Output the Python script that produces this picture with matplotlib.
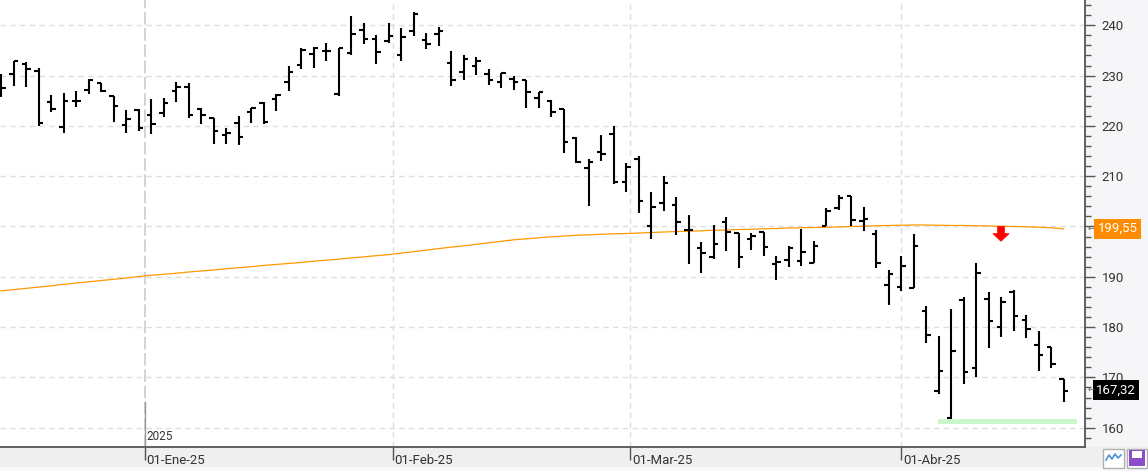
import numpy as np
import pandas as pd
import matplotlib
matplotlib.use("Agg")
import matplotlib.pyplot as plt
import matplotlib.transforms as mtransforms
from matplotlib.patches import Rectangle, FancyArrow
from matplotlib.lines import Line2D

plt.rcParams['font.family'] = ['Roboto', 'DejaVu Sans']

# trading days (US market), Dec 13 2024 .. Apr 21 2025
holidays = ['2024-12-25', '2025-01-01', '2025-01-09', '2025-01-20', '2025-02-17', '2025-04-18']
dates = pd.bdate_range('2024-12-13', '2025-04-21')
dates = dates[~dates.isin(pd.to_datetime(holidays))]

opens = [228.5, 230.3, 232.4, 230.9, 224.8, 219.8, 225.0, 227.1, 228.5, 226.0,
         220.2, 223.2, 222.2, 222.6, 226.9, 227.8, 223.3, 221.5, 218.2, 220.5,
         222.8, 224.5, 225.3, 228.8, 232.1, 234.2, 234.8, 226.3, 234.4, 239.1,
         237.3, 236.9, 234.1, 238.9, 237.1, 238.2, 232.6, 230.7, 232.0, 230.3,
         228.8, 229.3, 229.1, 225.5, 224.9, 223.3, 217.5, 211.6, 214.9, 218.3,
         208.8, 213.4, 200.1, 204.6, 204.3, 199.4, 195.8, 193.9, 200.8, 198.8,
         197.5, 198.9, 192.5, 193.3, 193.1, 192.7, 200.1, 203.6, 206.1, 201.1,
         198.5, 188.4, 187.9, 187.7, 183.1, 167.2, 161.9, 185.3, 171.9, 185.6,
         180.0, 186.9, 181.4, 176.4, 176.1, 169.6]
highs = [230.3, 233.0, 232.8, 231.5, 226.1, 226.5, 226.9, 229.3, 228.5, 226.0,
         223.2, 223.3, 225.3, 225.5, 228.8, 228.5, 223.5, 221.6, 219.6, 222.0,
         223.6, 224.7, 226.3, 231.9, 235.4, 235.6, 236.4, 235.5, 241.8, 240.4,
         238.1, 240.4, 239.4, 242.7, 238.4, 239.6, 234.9, 234.1, 233.6, 231.3,
         230.5, 229.9, 229.1, 226.8, 225.1, 223.4, 217.7, 213.4, 218.2, 220.0,
         212.7, 214.0, 206.9, 210.0, 205.9, 202.3, 197.0, 200.3, 201.8, 198.8,
         198.7, 199.0, 194.1, 196.1, 199.6, 197.1, 203.7, 206.3, 206.1, 203.9,
         199.3, 191.4, 194.1, 198.5, 184.2, 178.2, 183.6, 186.0, 192.8, 187.0,
         186.0, 187.4, 182.4, 179.3, 176.1, 169.6]
lows = [225.8, 228.0, 227.8, 220.0, 222.8, 218.6, 223.8, 226.3, 226.8, 220.8,
        218.5, 218.9, 218.3, 221.7, 224.8, 221.5, 220.3, 216.5, 216.5, 216.2,
        220.6, 220.3, 223.0, 226.9, 231.3, 231.6, 233.0, 225.9, 234.1, 236.2,
        232.3, 236.4, 233.0, 237.9, 235.2, 235.9, 228.0, 229.1, 230.1, 228.1,
        227.6, 227.1, 223.6, 223.6, 221.8, 214.7, 212.6, 204.1, 213.1, 208.4,
        206.9, 202.6, 197.5, 203.1, 198.3, 192.6, 190.8, 193.5, 195.2, 191.8,
        195.3, 194.1, 189.4, 192.0, 192.2, 192.7, 200.0, 203.3, 200.0, 199.2,
        191.8, 184.4, 187.2, 187.7, 176.9, 166.6, 161.7, 168.7, 170.0, 175.9,
        178.1, 179.3, 177.9, 171.3, 171.9, 165.2]
closes = [227.5, 233.0, 231.3, 220.6, 223.3, 224.9, 225.0, 229.2, 227.0, 223.9,
          221.3, 219.6, 220.4, 224.5, 227.8, 222.2, 222.2, 218.9, 218.6, 217.7,
          223.5, 220.7, 226.1, 230.8, 235.1, 235.4, 234.9, 235.4, 238.2, 237.2,
          234.6, 237.9, 237.6, 242.3, 236.2, 238.9, 229.1, 233.3, 232.9, 229.1,
          230.5, 228.7, 226.7, 226.7, 222.8, 216.7, 212.8, 212.8, 214.4, 208.8,
          211.9, 205.1, 203.8, 208.6, 200.8, 199.3, 194.7, 196.5, 198.9, 193.9,
          198.2, 195.9, 192.9, 195.8, 195.0, 196.1, 203.1, 205.7, 201.3, 201.4,
          192.7, 190.5, 192.1, 196.1, 178.4, 171.3, 175.3, 171.0, 190.7, 181.2,
          184.9, 182.2, 179.6, 174.4, 172.6, 167.32]

# 200-session moving average
ma200 = [187.2, 187.45, 187.7, 187.95, 188.2, 188.5, 188.75, 189.0, 189.25, 189.5,
         189.75, 190.05, 190.3, 190.5, 190.7, 190.95, 191.15, 191.35, 191.6, 191.8,
         192.0, 192.25, 192.45, 192.65, 192.85, 193.1, 193.3, 193.5, 193.75, 193.95,
         194.2, 194.4, 194.7, 195.0, 195.3, 195.6, 195.9, 196.15, 196.45, 196.75,
         197.05, 197.35, 197.55, 197.75, 197.95, 198.1, 198.25, 198.35, 198.45, 198.55,
         198.6, 198.7, 198.8, 198.9, 199.0, 199.05, 199.15, 199.25, 199.3, 199.4,
         199.45, 199.55, 199.6, 199.7, 199.75, 199.8, 199.85, 199.9, 200.0, 200.05,
         200.15, 200.2, 200.25, 200.3, 200.3, 200.25, 200.2, 200.2, 200.15, 200.1,
         200.05, 200.0, 199.95, 199.85, 199.75, 199.55]

ma_label = "199,55"
close_label = "167,32"
month_starts = ['2025-01-01', '2025-02-01', '2025-03-01', '2025-04-01']
month_labels = ['01-Ene-25', '01-Feb-25', '01-Mar-25', '01-Abr-25']
year_label = "2025"
price_ticks = [160, 170, 180, 190, 200, 210, 220, 230, 240]
signal_bar = 80
signal_top = 200.0
support_low, support_high = 160.7, 161.75
support_from, support_to = 74.95, 86.1


def date_pos(d):
    d = pd.Timestamp(d)
    j = dates.searchsorted(d)
    prev, nxt = dates[j - 1], dates[j]
    return j - 1 + (d - prev) / (nxt - prev)


W, H = 1148, 471
fig = plt.figure(figsize=(W / 100, H / 100), dpi=100)
fig.patch.set_facecolor('#efefef')
# right axis area slightly lighter, bottom edge strip
fig.patches.append(Rectangle((1085 / W, 24.3 / H), 1 - 1085 / W, 1 - 24.3 / H,
                             transform=fig.transFigure, fc='#f6f6f8', ec='none', zorder=-5))
fig.patches.append(Rectangle((0, 0), 1, 4.5 / H, transform=fig.transFigure,
                             fc='#f9f9f9', ec='none', zorder=-5))

ax = fig.add_axes([0, 24.3 / H, 1085 / W, 1 - 24.3 / H])
ax.set_zorder(1)
ax.set_facecolor('white')

x = np.arange(len(dates))
ax.set_xlim(-0.08, 86.72)
ax.set_ylim(156.22, 245.03)

# grid
for v in price_ticks:
    ax.axhline(v, color='#dedede', lw=1, ls=(0, (4, 3)), zorder=0)
mpos = [date_pos(d) for d in month_starts]
for k, p in enumerate(mpos):
    if k == 0:
        ax.axvline(p, color='#d0d0d0', lw=1.3, ls=(0, (7, 2)), zorder=0)
    else:
        ax.axvline(p, color='#dedede', lw=1, ls=(0, (4, 3)), zorder=0)

# support zone
ax.add_patch(Rectangle((support_from, support_low), support_to - support_from,
                       support_high - support_low, fc='#ccf7cc', ec='none', zorder=1))

# moving average
ax.plot(x, ma200, color='#ff9900', lw=0.9, zorder=2)

# OHLC bars
ax.vlines(x, lows, highs, color='black', lw=1.5, zorder=3)
ax.hlines(opens, x - 0.36, x, color='black', lw=1.5, zorder=3)
ax.hlines(closes, x, x + 0.36, color='black', lw=1.5, zorder=3)

# sell signal arrow
ax.add_patch(FancyArrow(signal_bar, signal_top, 0, -2.95, width=0.55, head_width=1.3,
                        head_length=1.55, length_includes_head=True, fc='#ff0000',
                        ec='#ff0000', lw=0.5, zorder=4))

# axes styling
for s in ['top', 'left']:
    ax.spines[s].set_visible(False)
for s in ['right', 'bottom']:
    ax.spines[s].set_color('#555555')
    ax.spines[s].set_linewidth(1.3)

ax.yaxis.tick_right()
ax.set_yticks(price_ticks)
# the 200 label sits under the orange MA price box
ax.set_yticklabels(['' if v == 200 else str(v) for v in price_ticks])
ax.set_yticks(np.arange(158, 246, 2), minor=True)
ax.tick_params(axis='y', which='major', length=7, width=1, color='#555555',
               labelsize=9.5, labelcolor='#333333', pad=5)
ax.tick_params(axis='y', which='minor', length=4, width=1, color='#555555')

ax.set_xticks(mpos)
ax.set_xticklabels([])
ax.tick_params(axis='x', which='major', length=9, width=1, color='#555555', direction='out')

bt = mtransforms.blended_transform_factory(ax.transData, ax.transAxes)
for p, lab in zip(mpos, month_labels):
    ax.text(p + 0.15, -0.032, lab, transform=bt, ha='left', va='center',
            fontsize=9.5, color='#333333', clip_on=False)

# year marker
ax.plot([mpos[0], mpos[0]], [0, 0.1], transform=bt, color='#999999', lw=1, zorder=2)
ax.text(mpos[0] + 0.1, 0.022, year_label, transform=bt, ha='left', va='center',
        fontsize=8.5, color='#333333')

# price labels on the right axis
rt = mtransforms.blended_transform_factory(ax.transAxes, ax.transData)
ax.text(1.0115, 199.55, ma_label, transform=rt, ha='left', va='center', fontsize=9.5,
        color='white', clip_on=False, zorder=10,
        bbox=dict(boxstyle='square,pad=0.25', fc='#ff8c00', ec='none'))
ax.text(1.0105, 167.5, close_label, transform=rt, ha='left', va='center', fontsize=9.5,
        color='white', clip_on=False, zorder=10,
        bbox=dict(boxstyle='square,pad=0.25', fc='black', ec='none'))
for v in (199.55, 167.5):
    ax.text(1.0022, v, '\u2190', transform=rt, ha='left', va='center', fontsize=6,
            color='#666666', clip_on=False, zorder=10)


# bottom-right icons
def fx(px):
    return px / W


def fy(py):
    return 1 - py / H


fig.patches.append(Rectangle((fx(1103), fy(468)), fx(21), 19 / H, transform=fig.transFigure,
                             fc='white', ec='#b0b0b0', lw=1, zorder=5))
fig.lines.append(Line2D([fx(1106), fx(1109), fx(1112), fx(1115), fx(1118), fx(1121)],
                        [fy(460), fy(455), fy(459), fy(454), fy(458), fy(455)],
                        transform=fig.transFigure, color='#4a8fd6', lw=1.2, zorder=6))
fig.patches.append(Rectangle((fx(1127), fy(468)), fx(20), 19 / H, transform=fig.transFigure,
                             fc='white', ec='#b0b0b0', lw=1, zorder=5))
fig.patches.append(Rectangle((fx(1129), fy(466)), fx(16), 16 / H, transform=fig.transFigure,
                             fc='#8a4fc6', ec='none', zorder=6))
fig.patches.append(Rectangle((fx(1132), fy(458)), fx(10), 7 / H, transform=fig.transFigure,
                             fc='white', ec='none', zorder=7))

fig.savefig('out.png', dpi=100, facecolor=fig.get_facecolor())
